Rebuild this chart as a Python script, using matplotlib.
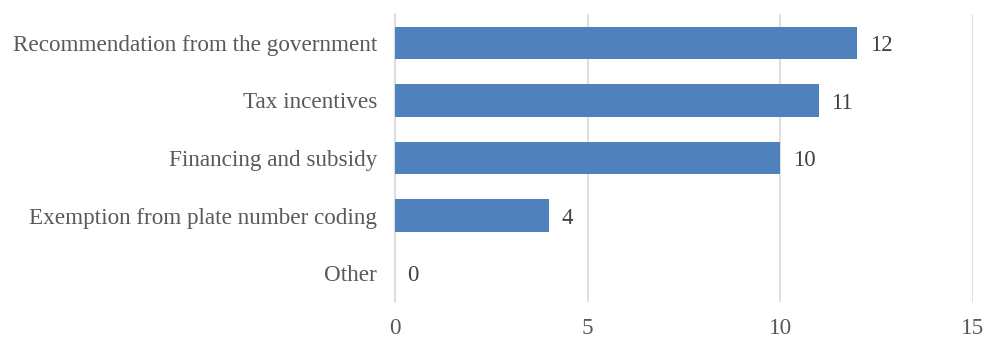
import matplotlib.pyplot as plt

# Categories (top to bottom) and values
categories = ["Recommendation from the government", "Tax incentives",
              "Financing and subsidy", "Exemption from plate number coding", "Other"]
values = [12, 11, 10, 4, 0]
x_ticks = [0, 5, 10, 15]

plt.rcParams['font.family'] = ['Liberation Serif', 'DejaVu Serif']

fig = plt.figure(figsize=(9.87, 3.38), dpi=100)
ax = fig.add_axes([0.4002, 0.1065, 0.5856, 0.8521])

pos = list(range(len(categories)))
ax.barh(pos, values, height=0.56, color='#4F81BD', zorder=3)
ax.set_ylim(len(categories) - 0.5, -0.5)
ax.set_xlim(0, 15)
ax.set_yticks(pos)
ax.set_yticklabels(categories)
ax.set_xticks(x_ticks)

# value labels just right of each bar
for p, v in zip(pos, values):
    ax.annotate(str(v), (v, p), xytext=(9, -2), textcoords='offset points',
                va='center', ha='left', fontsize=16.5, color='#404040')

ax.grid(axis='x', color='#d9d9d9', linewidth=1.2, zorder=0)
for s in ['top', 'right', 'bottom']:
    ax.spines[s].set_visible(False)
ax.spines['left'].set_color('#d9d9d9')
ax.spines['left'].set_linewidth(1.2)
ax.tick_params(axis='both', length=0, labelsize=16.7, labelcolor='#595959')
ax.tick_params(axis='y', pad=13)
ax.tick_params(axis='x', pad=11.5)

fig.savefig("out.png", dpi=100)
